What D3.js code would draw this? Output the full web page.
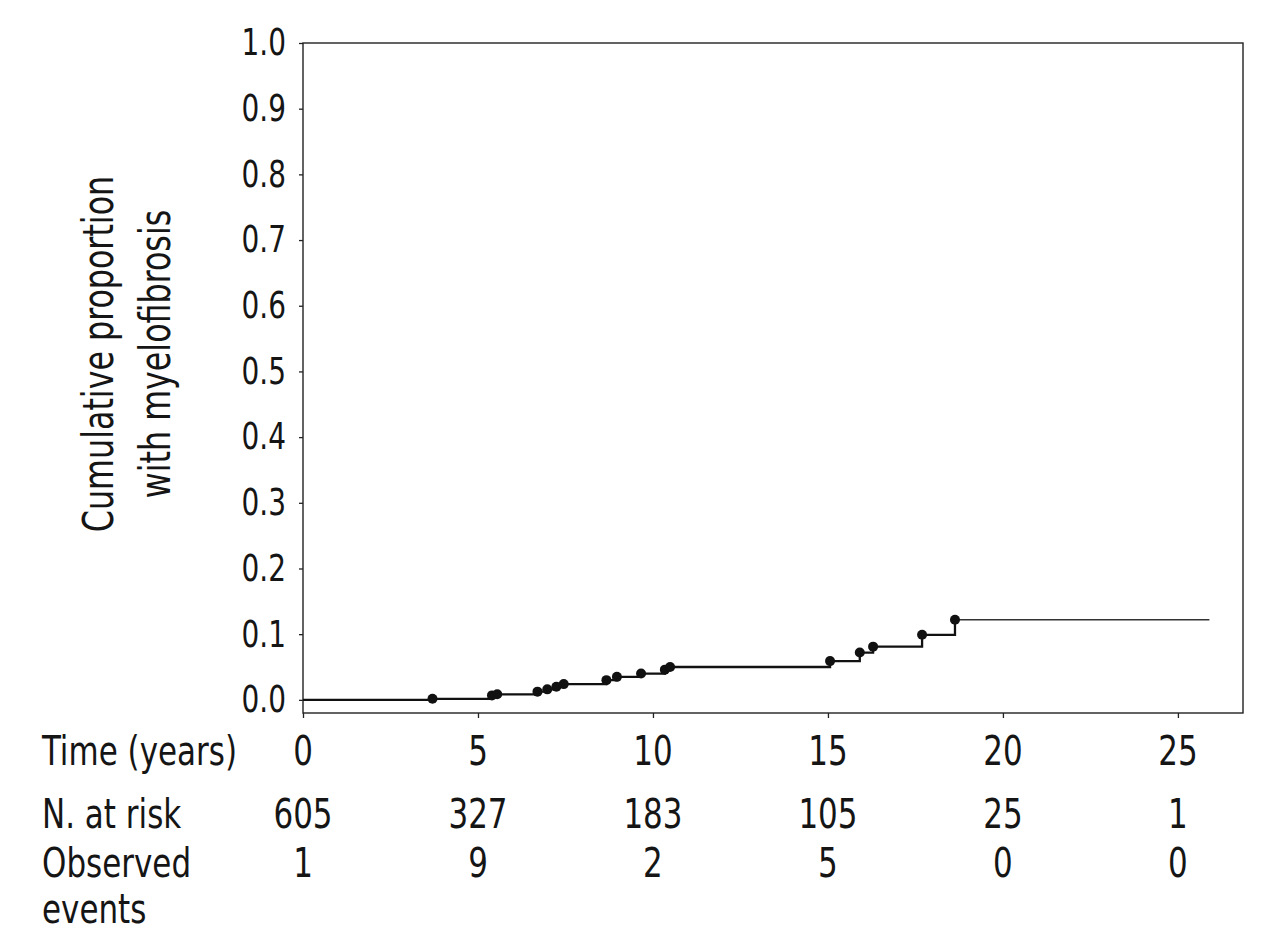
<!DOCTYPE html>
<html>
<head>
<meta charset="utf-8">
<script src="https://cdn.jsdelivr.net/npm/d3@7"></script>
<style>
  html, body { margin: 0; padding: 0; background: #fff; }
  svg { display: block; }
  text { font-family: "Liberation Sans Narrow", "DejaVu Sans Condensed", "Arial Narrow", sans-serif; fill: #151515; }
</style>
</head>
<body>
<svg id="chart" width="1280" height="949"></svg>
<script>
// ---- Data ----
const eventTimes  = [3.7, 5.4, 5.55, 6.7, 6.98, 7.24, 7.45, 8.67, 8.97, 9.66, 10.34, 10.49, 15.06, 15.91, 16.29, 17.69, 18.63];
const eventValues = [0.0016, 0.0068, 0.0085, 0.0125, 0.016, 0.020, 0.024, 0.030, 0.035, 0.040, 0.046, 0.050, 0.059, 0.072, 0.081, 0.099, 0.122];
const followUpEnd = 25.9;
const timeTicks = [0, 5, 10, 15, 20, 25];
const atRisk = [605, 327, 183, 105, 25, 1];
const observedEvents = [1, 9, 2, 5, 0, 0];
const yTicks = [0, 0.1, 0.2, 0.3, 0.4, 0.5, 0.6, 0.7, 0.8, 0.9, 1.0];
const yTitleLines = ["Cumulative proportion", "with myelofibrosis"];
const rowLabels = ["Time (years)", "N. at risk", "Observed", "events"];

// ---- Layout ----
const pLeft = 303, pRight = 1243, pTop = 43, pBottom = 713;
const SX = 0.84; // horizontal condensing of the font
const svg = d3.select("#chart");
const x = d3.scaleLinear().domain([0, 26.86]).range([pLeft, pRight]);
const y = d3.scaleLinear().domain([-0.02, 1.0]).range([pBottom, pTop]);

function label(parent, tx, ty, str, size, anchor, rot) {
  return parent.append("text")
    .attr("transform", `translate(${tx},${ty})${rot ? ` rotate(${rot})` : ""} scale(${SX},1)`)
    .attr("text-anchor", anchor || "start")
    .style("font-size", size + "px")
    .text(str);
}

// frame
svg.append("rect")
  .attr("x", pLeft).attr("y", pTop)
  .attr("width", pRight - pLeft).attr("height", pBottom - pTop)
  .attr("fill", "none").attr("stroke", "#222").attr("stroke-width", 1.4);

// y axis
const yAxis = svg.append("g")
  .attr("transform", `translate(${pLeft},0)`)
  .call(d3.axisLeft(y).tickValues(yTicks).tickSize(4).tickPadding(13).tickFormat(d3.format(".1f")));
yAxis.select(".domain").remove();
yAxis.selectAll(".tick line").attr("stroke", "#222").attr("stroke-width", 1.3);
yAxis.selectAll(".tick text")
  .style("font-family", '"Liberation Sans Narrow", "DejaVu Sans Condensed", sans-serif')
  .style("font-size", "37px").attr("fill", "#151515")
  .attr("x", -17 / SX).attr("transform", `scale(${SX},1)`);

// x axis ticks (labels drawn in the table row)
const xAxis = svg.append("g")
  .attr("transform", `translate(0,${pBottom})`)
  .call(d3.axisBottom(x).tickValues(timeTicks).tickSize(5).tickFormat(""));
xAxis.select(".domain").remove();
xAxis.selectAll(".tick line").attr("stroke", "#222").attr("stroke-width", 1.3);

// y title
yTitleLines.forEach((t, i) => {
  label(svg, 113 + i * 57, 354, t, 42, "middle", -90);
});

// step curve
const pts = [[0, 0]];
eventTimes.forEach((t, i) => pts.push([t, eventValues[i]]));
const lastT = eventTimes[eventTimes.length - 1];
const lastV = eventValues[eventValues.length - 1];
const stepLine = d3.line().x(d => x(d[0])).y(d => y(d[1])).curve(d3.curveStepAfter);
svg.append("path")
  .attr("d", stepLine(pts))
  .attr("fill", "none").attr("stroke", "#111").attr("stroke-width", 2.3);
svg.append("path")
  .attr("d", stepLine([[lastT, lastV], [followUpEnd, lastV]]))
  .attr("fill", "none").attr("stroke", "#333").attr("stroke-width", 1.6);

// event markers
svg.append("g").selectAll("circle")
  .data(eventTimes.map((t, i) => [t, eventValues[i]]))
  .join("circle")
  .attr("cx", d => x(d[0])).attr("cy", d => y(d[1]))
  .attr("r", 5).attr("fill", "#111");

// table rows
const rowY = [765, 828, 877, 923];
rowLabels.forEach((t, i) => label(svg, 42, rowY[i], t, 41, "start"));
timeTicks.forEach(d => label(svg, x(d), rowY[0], d, 41, "middle"));
atRisk.forEach((d, i) => label(svg, x(timeTicks[i]), rowY[1], d, 41, "middle"));
observedEvents.forEach((d, i) => label(svg, x(timeTicks[i]), rowY[2], d, 41, "middle"));
</script>
</body>
</html>
